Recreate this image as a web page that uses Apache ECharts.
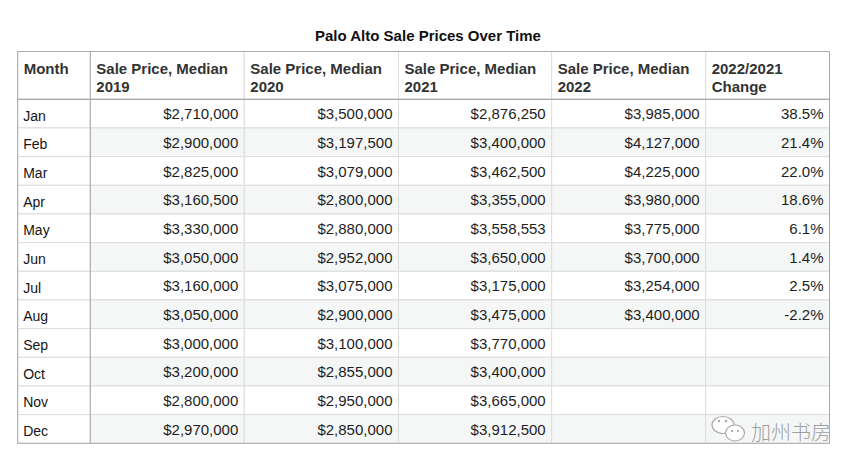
<!DOCTYPE html>
<html>
<head>
<meta charset="utf-8">
<script src="https://cdn.jsdelivr.net/npm/echarts@6/dist/echarts.min.js"></script>
<style>
html,body{margin:0;padding:0;background:#fff;}
#chart{width:863px;height:469px;}
</style>
</head>
<body>
<div id="chart"></div>
<script>
// ---- data ----
const titleText = 'Palo Alto Sale Prices Over Time';
const headers = ['Month', 'Sale Price, Median\n2019', 'Sale Price, Median\n2020', 'Sale Price, Median\n2021', 'Sale Price, Median\n2022', '2022/2021\nChange'];
const months = ['Jan','Feb','Mar','Apr','May','Jun','Jul','Aug','Sep','Oct','Nov','Dec'];
const price2019 = [2710000, 2900000, 2825000, 3160500, 3330000, 3050000, 3160000, 3050000, 3000000, 3200000, 2800000, 2970000];
const price2020 = [3500000, 3197500, 3079000, 2800000, 2880000, 2952000, 3075000, 2900000, 3100000, 2855000, 2950000, 2850000];
const price2021 = [2876250, 3400000, 3462500, 3355000, 3558553, 3650000, 3175000, 3475000, 3770000, 3400000, 3665000, 3912500];
const price2022 = [3985000, 4127000, 4225000, 3980000, 3775000, 3700000, 3254000, 3400000, null, null, null, null];
const change2022vs2021 = [38.5, 21.4, 22.0, 18.6, 6.1, 1.4, 2.5, -2.2, null, null, null, null];
const watermarkText = '加州书房';

// ---- layout (not data) ----
const colWidths = [72.6, 154, 154.2, 153.2, 154, 123.8];
const edges = [0];
colWidths.forEach(w => edges.push(edges[edges.length - 1] + w));
const totalW = edges[edges.length - 1];
const gridLeft = 17.7, gridTop = 99.3, gridBottom = 469 - 443.3;
const gridRight = 863 - gridLeft - totalW;
const headerH = 47.8;
const FONT = 'Helvetica, Arial, "Liberation Sans", sans-serif';
const stripe = '#f4f7f6';

const fmtPrice = v => (v == null ? '' : '$' + v.toLocaleString('en-US'));
const fmtPct = v => (v == null ? '' : v.toFixed(1) + '%');
const columns = [
  months.map(m => m),
  price2019.map(fmtPrice),
  price2020.map(fmtPrice),
  price2021.map(fmtPrice),
  price2022.map(fmtPrice),
  change2022vs2021.map(fmtPct)
];

const cellData = [], cellTexts = [];
for (let r = 0; r < months.length; r++) {
  for (let c = 0; c < columns.length; c++) {
    cellData.push([c, r]);
    cellTexts.push(columns[c][r]);
  }
}
const headerData = headers.map((h, c) => [c, 0]);

function cellRender(params, api) {
  const c = api.value(0), r = api.value(1);
  const p0 = api.coord([edges[c], r]);
  const p1 = api.coord([edges[c + 1], r]);
  const h = api.size([0, 1])[1];
  const top = p0[1] - h / 2;
  const w = p1[0] - p0[0];
  const txt = cellTexts[params.dataIndex];
  const isMonth = c === 0;
  return {
    type: 'group',
    children: [
      {
        type: 'rect',
        shape: { x: p0[0], y: top, width: w, height: h },
        style: { fill: (r % 2 === 1 && !isMonth) ? stripe : '#ffffff', stroke: '#dddddd', lineWidth: 1 }
      },
      {
        type: 'text',
        style: {
          text: txt,
          x: isMonth ? p0[0] + 5.5 : p1[0] - 6,
          y: p0[1] + (isMonth ? 2 : 0.3),
          align: isMonth ? 'left' : 'right',
          verticalAlign: 'middle',
          fontSize: isMonth ? 14 : 15,
          fontFamily: FONT,
          fill: isMonth ? '#151515' : '#1e1e1e'
        }
      }
    ]
  };
}

function headerRender(params, api) {
  const c = api.value(0);
  const p0 = api.coord([edges[c], 0]);
  const p1 = api.coord([edges[c + 1], 0]);
  const h = api.size([0, 1])[1];
  const bottom = p0[1] - h / 2;
  const top = bottom - headerH;
  return {
    type: 'group',
    children: [
      {
        type: 'rect',
        shape: { x: p0[0], y: top, width: p1[0] - p0[0], height: headerH },
        style: { fill: '#ffffff', stroke: '#dddddd', lineWidth: 1 }
      },
      {
        type: 'text',
        style: {
          text: headers[params.dataIndex],
          x: p0[0] + 6,
          y: top + 8,
          align: 'left',
          verticalAlign: 'top',
          fontSize: 15,
          fontWeight: 'bold',
          lineHeight: 18,
          fontFamily: FONT,
          fill: '#333333'
        }
      }
    ]
  };
}

function frameRender(params, api) {
  const n = months.length;
  const h = api.size([0, 1])[1];
  const pL = api.coord([0, 0]);
  const pR = api.coord([totalW, n - 1]);
  const pM = api.coord([edges[1], 0]);
  const bodyTop = pL[1] - h / 2;
  const bodyBottom = pR[1] + h / 2;
  const top = bodyTop - headerH;
  const line = '#a9a9a9';
  return {
    type: 'group',
    children: [
      { type: 'rect', shape: { x: pL[0], y: top, width: pR[0] - pL[0], height: bodyBottom - top }, style: { fill: 'none', stroke: line, lineWidth: 1 } },
      { type: 'line', shape: { x1: pL[0], y1: bodyTop, x2: pR[0], y2: bodyTop }, style: { stroke: line, lineWidth: 1.2 } },
      { type: 'line', shape: { x1: pM[0], y1: top, x2: pM[0], y2: bodyBottom }, style: { stroke: line, lineWidth: 1 } }
    ]
  };
}

const chart = echarts.init(document.getElementById('chart'), null, { renderer: 'svg' });
chart.setOption({
  backgroundColor: '#ffffff',
  animation: false,
  title: {
    text: titleText,
    left: 310,
    top: 23,
    textStyle: { fontSize: 15, fontWeight: 'bold', color: '#111111', fontFamily: FONT }
  },
  grid: { left: gridLeft, right: gridRight, top: gridTop, bottom: gridBottom },
  xAxis: { type: 'value', min: 0, max: totalW, show: false },
  yAxis: { type: 'category', data: months, inverse: true, show: false },
  series: [
    { type: 'custom', name: 'header', renderItem: headerRender, data: headerData, clip: false, silent: true, z: 1 },
    { type: 'custom', name: 'cells', renderItem: cellRender, data: cellData, clip: false, silent: true, z: 2 },
    { type: 'custom', name: 'frame', renderItem: frameRender, data: [[0, 0]], clip: false, silent: true, z: 3 }
  ],
  graphic: [
    { type: 'ellipse', shape: { cx: 723, cy: 425, rx: 11, ry: 8.5 }, style: { fill: '#ffffff', stroke: '#a8a8a8', lineWidth: 1.2 }, z: 10 },
    { type: 'circle', shape: { cx: 719, cy: 421, r: 1.2 }, style: { fill: '#a8a8a8' }, z: 11 },
    { type: 'circle', shape: { cx: 726, cy: 421, r: 1.2 }, style: { fill: '#a8a8a8' }, z: 11 },
    { type: 'ellipse', shape: { cx: 735, cy: 433, rx: 9.5, ry: 8 }, style: { fill: '#ffffff', stroke: '#a8a8a8', lineWidth: 1.2 }, z: 12 },
    { type: 'circle', shape: { cx: 732, cy: 431, r: 1.1 }, style: { fill: '#a8a8a8' }, z: 13 },
    { type: 'circle', shape: { cx: 738, cy: 431, r: 1.1 }, style: { fill: '#a8a8a8' }, z: 13 },
    {
      type: 'text', z: 14,
      style: {
        text: watermarkText, x: 751, y: 431, align: 'left', verticalAlign: 'middle',
        fontSize: 20, fontFamily: '"Noto Sans CJK SC", sans-serif', fontWeight: 300,
        fill: '#9e9e9e'
      }
    }
  ]
});
</script>
</body>
</html>
